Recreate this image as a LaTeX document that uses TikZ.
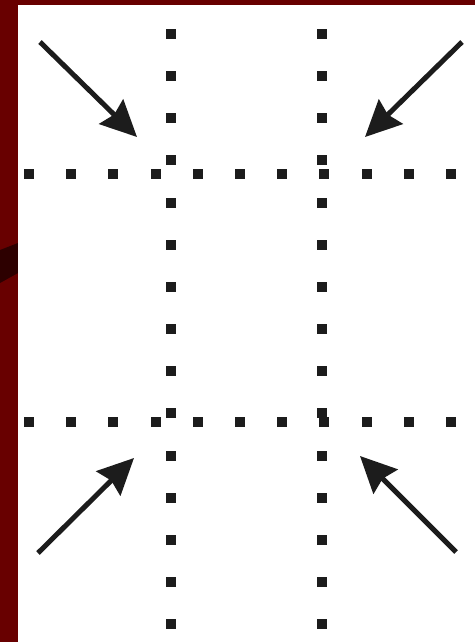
\documentclass[tikz,border=0pt]{standalone}
\usepackage{xcolor}
\usepackage{tikz}
\usetikzlibrary{arrows.meta}
\definecolor{frame}{RGB}{104,0,0}
\definecolor{frameshade}{RGB}{45,0,0}
\definecolor{ink}{RGB}{28,28,28}

\begin{document}
\begin{tikzpicture}[x=1pt, y=-1pt,
  dot/.style={fill=ink, inner sep=0pt, minimum size=10pt},
  arrow/.style={-{Stealth[length=36pt, width=34pt, inset=4pt]}, ink,
                line width=5pt}]
% background and frame
\fill[frame] (0,0) rectangle (475,642);
\fill[frameshade] (0,250) -- (18,243) -- (18,273) -- (0,283) -- cycle;
\fill[white] (18,5) rectangle (475,642);
% vertical dotted lines
\foreach \k in {0,...,14} {
  \node[dot] (left-\k) at (171, 34+42.15*\k) {};
  \node[dot] (right-\k) at (322, 34+42.15*\k) {};
}
% horizontal dotted lines
\foreach \k in {0,...,10} {
  \node[dot] (top-\k) at (29+42.2*\k, 174) {};
  \node[dot] (bot-\k) at (29+42.2*\k, 422) {};
}
% arrows towards the corners
\coordinate (tlstart) at (40,42);
\coordinate (tltip) at (137,137);
\coordinate (trstart) at (462,42);
\coordinate (trtip) at (365,137);
\coordinate (blstart) at (38,553);
\coordinate (bltip) at (134,458);
\coordinate (brstart) at (456,552);
\coordinate (brtip) at (360,456);
\draw[arrow] (tlstart) -- (tltip);
\draw[arrow] (trstart) -- (trtip);
\draw[arrow] (blstart) -- (bltip);
\draw[arrow] (brstart) -- (brtip);
\end{tikzpicture}
\end{document}
